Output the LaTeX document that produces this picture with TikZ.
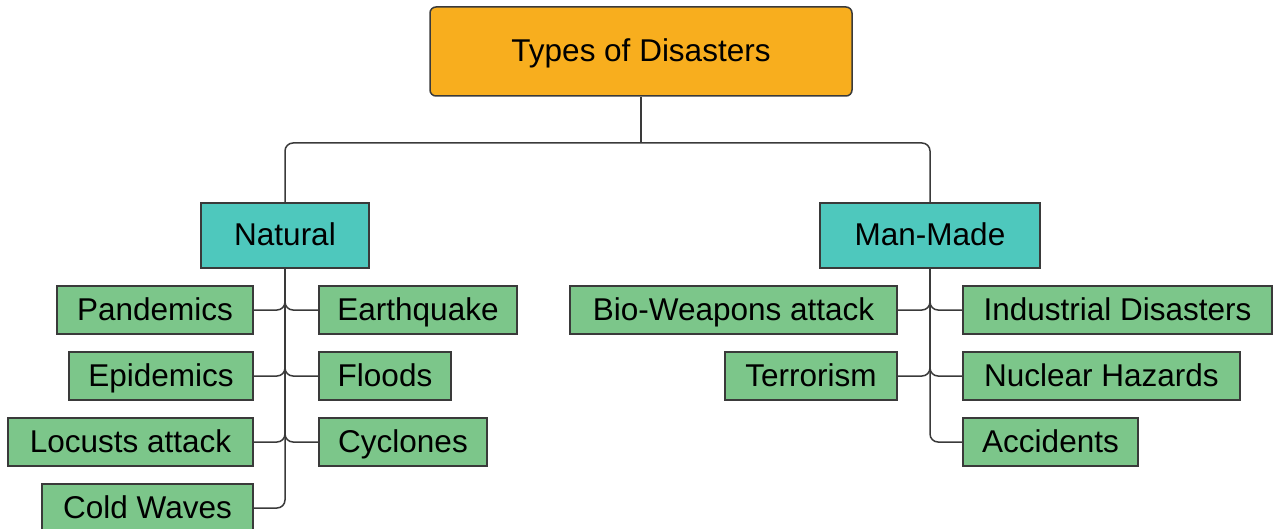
\documentclass[tikz,border=0pt]{standalone}
\usepackage{fontspec}
\setmainfont{Liberation Sans}
\definecolor{rootfill}{HTML}{F8AE1E}
\definecolor{catfill}{HTML}{4EC8BD}
\definecolor{itemfill}{HTML}{7CC68A}
\definecolor{edgecol}{HTML}{3A3A3A}
\tikzset{
    box/.style={draw=edgecol, line width=1.5pt, minimum height=48pt, inner sep=0pt,
        text height=25pt, text depth=4pt,
        font=\fontsize{31.5}{38}\selectfont},
    rootbox/.style={box, fill=rootfill, rounded corners=6pt, minimum height=89pt},
    catbox/.style={box, fill=catfill, minimum height=65pt},
    itembox/.style={box, fill=itemfill},
    link/.style={draw=edgecol, line width=1.5pt, rounded corners=8pt}
}
\begin{document}
\begin{tikzpicture}[x=1pt, y=-1pt]
        \useasboundingbox (0,0) rectangle (1273,529);

        \node[rootbox, minimum width=422pt] (root) at (641,51.5) {Types of Disasters};

        \node[catbox, minimum width=168pt] (nat) at (285,235.5) {Natural};
        \node[catbox, minimum width=220pt] (man) at (930,235.5) {Man-Made};

        % natural, left side
        \node[itembox, minimum width=196pt] (pand) at (155,310) {Pandemics};
        \node[itembox, minimum width=184pt] (epid) at (161,376) {Epidemics};
        \node[itembox, minimum width=245pt] (locu) at (130.5,442) {Locusts attack};
        \node[itembox, minimum width=211pt] (cold) at (147.5,508) {Cold Waves};
        % natural, right side
        \node[itembox, minimum width=198pt] (earth) at (418,310) {Earthquake};
        \node[itembox, minimum width=132pt] (flood) at (385,376) {Floods};
        \node[itembox, minimum width=168pt] (cycl) at (403,442) {Cyclones};

        % man-made, left side
        \node[itembox, minimum width=327pt] (bio) at (733.5,310) {Bio-Weapons attack};
        \node[itembox, minimum width=172pt] (terr) at (811,376) {Terrorism};
        % man-made, right side
        \node[itembox, minimum width=309pt] (indu) at (1117.5,310) {Industrial Disasters};
        \node[itembox, minimum width=277pt] (nucl) at (1101.5,376) {Nuclear Hazards};
        \node[itembox, minimum width=175pt] (acci) at (1050.5,442) {Accidents};

        \coordinate (bus) at (641,143);
        \draw[link] (root.south) -- (bus);
        \draw[link] (nat.north) |- (bus) -| (man.north);

        \foreach \n in {pand,epid,locu,cold}
            \draw[link] (\n.east) -| (nat.south);
        \foreach \n in {earth,flood,cycl}
            \draw[link] (\n.west) -| (nat.south);
        \foreach \n in {bio,terr}
            \draw[link] (\n.east) -| (man.south);
        \foreach \n in {indu,nucl,acci}
            \draw[link] (\n.west) -| (man.south);
    \end{tikzpicture}
\end{document}
